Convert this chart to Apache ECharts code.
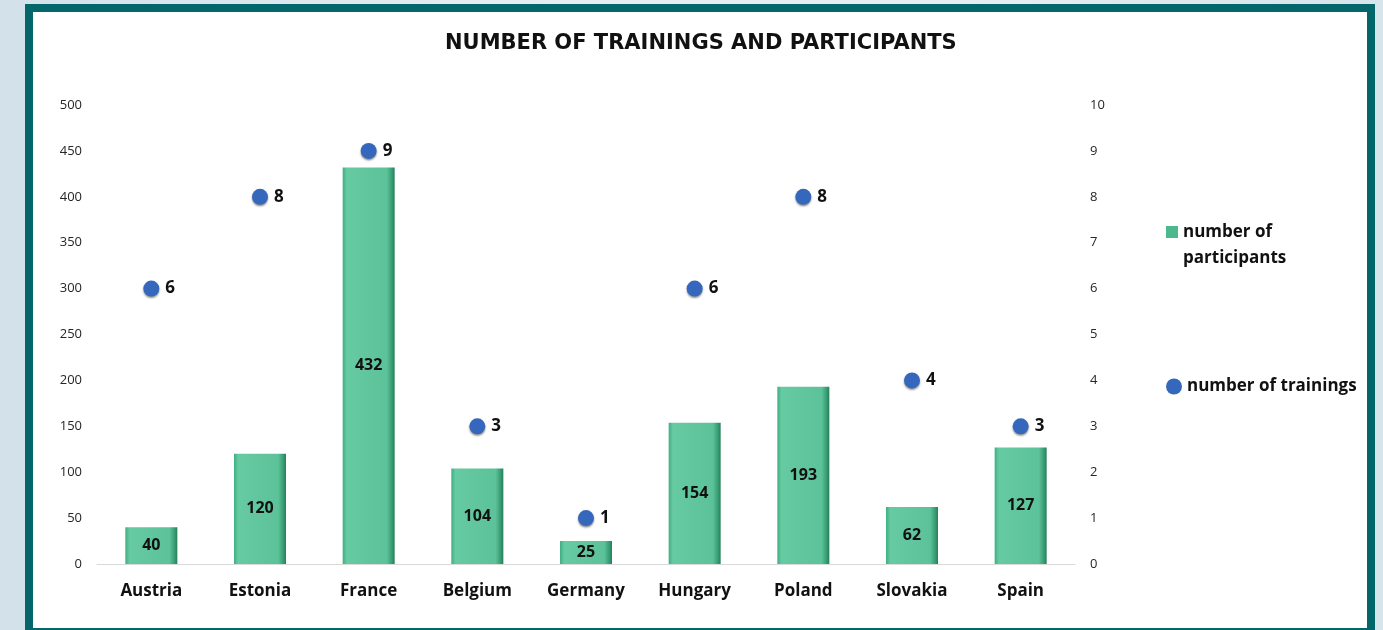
<!DOCTYPE html>
<html>
<head>
<meta charset="utf-8">
<script src="https://cdn.jsdelivr.net/npm/echarts@6/dist/echarts.min.js"></script>
<style>
html,body{margin:0;padding:0;width:1383px;height:630px;overflow:hidden;background:linear-gradient(90deg,#d3e2ea 0%,#e4edf2 40%,#e4edf2 70%,#d6e4eb 100%);}
#frame{position:absolute;left:25px;top:4px;width:1334px;height:616px;border:8px solid #02666b;background:#fff;}
#chart{position:absolute;left:0;top:0;width:1383px;height:630px;}
</style>
</head>
<body>
<div id="frame"></div>
<div id="chart"></div>
<script>
const categories = ['Austria','Estonia','France','Belgium','Germany','Hungary','Poland','Slovakia','Spain'];
const participants = [40,120,432,104,25,154,193,62,127];
const trainings = [6,8,9,3,1,6,8,4,3];
const leftTicks = {min:0,max:500,interval:50};
const rightTicks = {min:0,max:10,interval:1};

const chart = echarts.init(document.getElementById('chart'), null, {renderer:'canvas'});
const font = "'Open Sans', 'Noto Sans', sans-serif";
chart.setOption({
  backgroundColor:'transparent',
  textStyle:{fontFamily:font},
  title:{text:'NUMBER OF TRAININGS AND PARTICIPANTS',left:445,top:33,padding:0,
    textStyle:{fontFamily:"'DejaVu Sans', sans-serif",fontWeight:'bold',fontSize:21,color:'#111'}},
  grid:{left:97,right:308,top:105,bottom:66,containLabel:false},
  legend:[{
    data:[{name:'number of\nparticipants',icon:'rect'}],
    formatter:function(n){return ' \n'+n;},
    left:1166,top:193,padding:0,orient:'vertical',itemWidth:12,itemHeight:12,
    textStyle:{fontFamily:font,fontWeight:'bold',fontSize:17,color:'#111',lineHeight:26},
    itemStyle:{color:'#4cb88e'}
  },{
    data:[{name:'number of trainings',icon:'circle'}],
    left:1166,top:378,padding:0,orient:'vertical',itemWidth:16,itemHeight:16,
    textStyle:{fontFamily:font,fontWeight:'bold',fontSize:17,color:'#111'}
  }],
  xAxis:{type:'category',data:categories,
    axisLine:{lineStyle:{color:'#d9d9d9'}},axisTick:{show:false},
    axisLabel:{fontFamily:font,fontWeight:'bold',fontSize:17,color:'#111',margin:19}},
  yAxis:[{type:'value',min:leftTicks.min,max:leftTicks.max,interval:leftTicks.interval,
    splitLine:{show:false},axisLine:{show:false},axisTick:{show:false},
    axisLabel:{fontFamily:font,fontSize:13,color:'#262626',margin:15}},
    {type:'value',min:rightTicks.min,max:rightTicks.max,interval:rightTicks.interval,position:'right',
    splitLine:{show:false},axisLine:{show:false},axisTick:{show:false},
    axisLabel:{fontFamily:font,fontSize:13,color:'#262626',margin:15}}],
  series:[{
    name:'number of\nparticipants',type:'bar',data:participants,barWidth:52,yAxisIndex:0,
    itemStyle:{color:new echarts.graphic.LinearGradient(0,0,1,0,[
      {offset:0,color:'#3fae82'},{offset:0.08,color:'#66caa2'},{offset:0.85,color:'#5cc29a'},{offset:0.94,color:'#3a9f75'},{offset:1,color:'#25805a'}])},
    label:{show:true,position:'inside',fontFamily:font,fontWeight:'bold',fontSize:16,color:'#111'}
  },{
    name:'number of trainings',type:'scatter',data:trainings,yAxisIndex:1,symbol:'circle',symbolSize:16,
    itemStyle:{color:'#3567bd',opacity:1,shadowColor:'rgba(0,0,0,0.45)',shadowBlur:2,shadowOffsetY:1.5},
    label:{show:true,position:'right',distance:6,fontFamily:font,fontWeight:'bold',fontSize:17,color:'#111'}
  }]
});
</script>
</body>
</html>
